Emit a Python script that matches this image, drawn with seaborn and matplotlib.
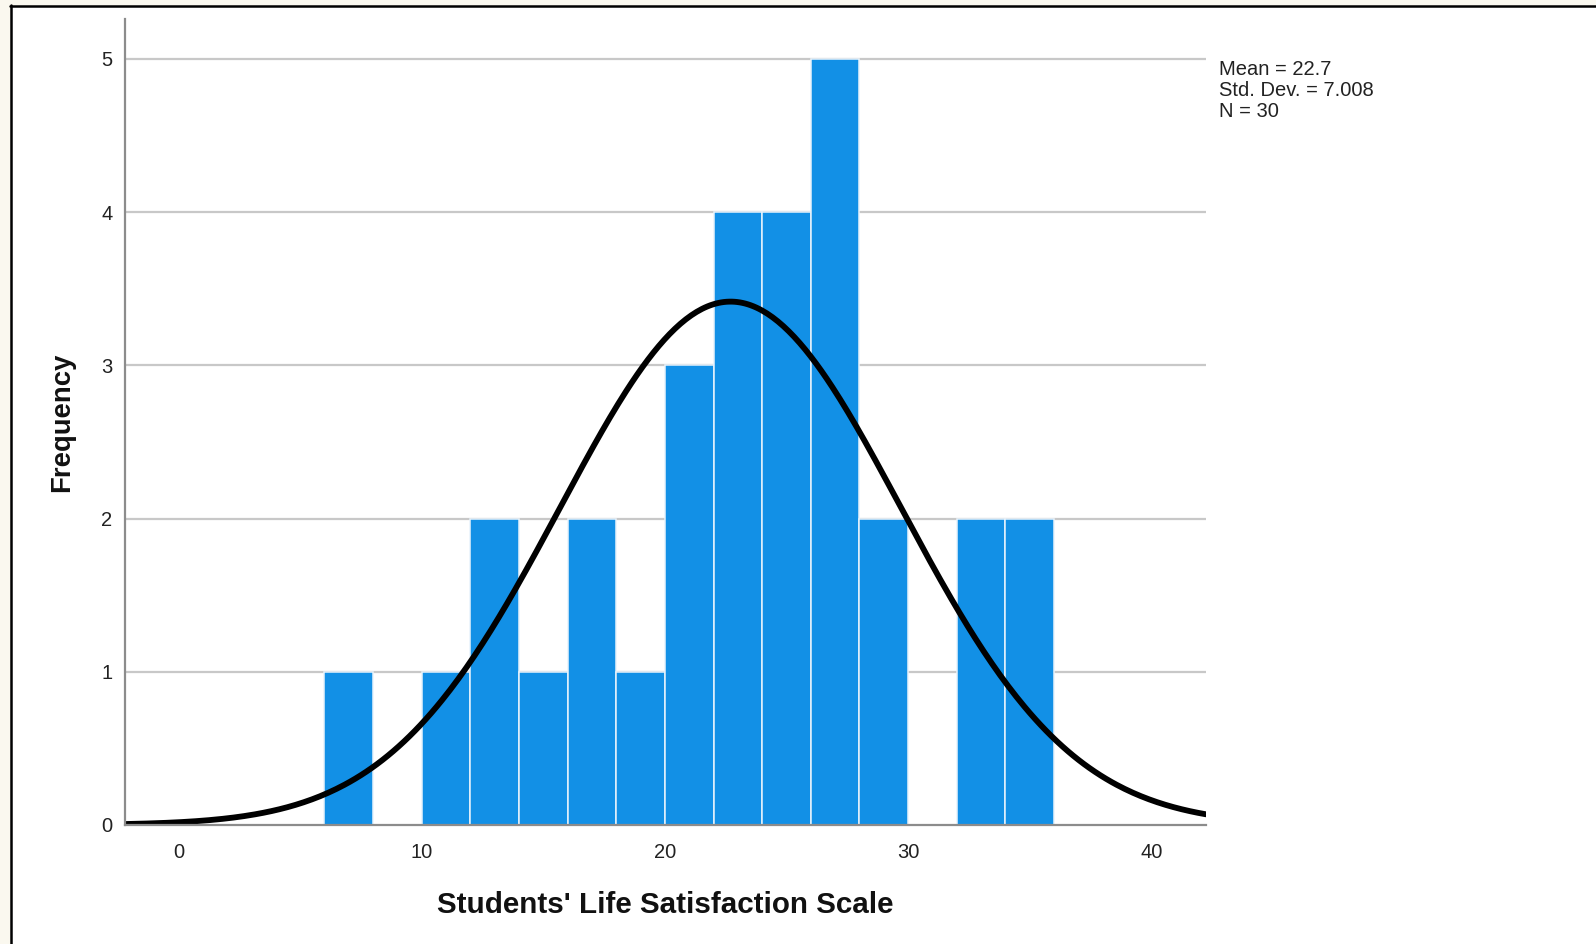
import numpy as np
import pandas as pd
import seaborn as sns
import matplotlib.pyplot as plt
from matplotlib.patches import Rectangle
from matplotlib.lines import Line2D

# -------------------------------
# Data
# -------------------------------
bin_edges = [6, 8, 10, 12, 14, 16, 18, 20, 22, 24, 26, 28, 30, 32, 34, 36]
counts = [1, 0, 1, 2, 1, 2, 1, 3, 4, 4, 5, 2, 0, 2, 2]
mean_val = 22.7
std_val = 7.008
n_val = 30
x_ticks = [0, 10, 20, 30, 40]
y_ticks = [0, 1, 2, 3, 4, 5]

bin_mids = [(a + b) / 2 for a, b in zip(bin_edges[:-1], bin_edges[1:])]
df = pd.DataFrame({"score": bin_mids, "n": counts})

sns.set_style("white")
plt.rcParams['font.family'] = ['Liberation Sans', 'DejaVu Sans']

W, H = 1596, 944
fig = plt.figure(figsize=(W / 100, H / 100), dpi=100)
ax = fig.add_axes([125 / W, (H - 825) / H, (1206 - 125) / W, (825 - 19) / H])

# grid behind bars
for yv in y_ticks[1:]:
    ax.axhline(yv, color="#c8c8c8", lw=1.6, zorder=0)

sns.histplot(data=df, x="score", weights="n", bins=bin_edges, ax=ax,
             color="#1290e6", alpha=1, edgecolor="#e8f3fc", linewidth=1.1, zorder=2)

# fitted normal curve
xlim = (-2.2, 42.25)
xs = np.linspace(xlim[0], xlim[1], 400)
bw = bin_edges[1] - bin_edges[0]
ys = n_val * bw / (std_val * np.sqrt(2 * np.pi)) * np.exp(-0.5 * ((xs - mean_val) / std_val) ** 2)
sns.lineplot(x=xs, y=ys, ax=ax, color="black", lw=4.2, zorder=3)

ax.set_xlim(*xlim)
ax.set_ylim(0, 5.26)
ax.set_xticks(x_ticks)
ax.set_yticks(y_ticks)
ax.tick_params(length=0, labelsize=14.5, colors="#222222")
ax.tick_params(axis="x", pad=13)
ax.tick_params(axis="y", pad=9)

for s in ["top", "right"]:
    ax.spines[s].set_visible(False)
for s in ["left", "bottom"]:
    ax.spines[s].set_color("#8c8c8c")
    ax.spines[s].set_linewidth(1.6)
    ax.spines[s].set_zorder(4)

ax.set_xlabel("Students' Life Satisfaction Scale", fontsize=21.3, fontweight="bold",
              color="#111111", labelpad=21)
ax.set_ylabel("Frequency", fontsize=19.8, fontweight="bold", color="#111111", labelpad=19)

fig.text(1219 / W, 1 - 60 / H,
         f"Mean = {mean_val}\nStd. Dev. = {std_val:.3f}\nN = {n_val}",
         fontsize=14.5, color="#222222", va="top", ha="left", linespacing=1.12)

# screenshot frame: cream margin with a black edge on top and left
fig.patches.append(Rectangle((0, 0), 10 / W, 1, transform=fig.transFigure,
                             color="#faf8ef", zorder=-1))
fig.patches.append(Rectangle((0, 1 - 5 / H), 1, 5 / H, transform=fig.transFigure,
                             color="#faf8ef", zorder=-1))
fig.lines.append(Line2D([11 / W, 11 / W], [0, 1 - 5 / H], transform=fig.transFigure,
                        color="black", lw=1.8))
fig.lines.append(Line2D([10 / W, 1], [1 - 6 / H, 1 - 6 / H], transform=fig.transFigure,
                        color="black", lw=1.8))

fig.savefig("out.png", dpi=100)
